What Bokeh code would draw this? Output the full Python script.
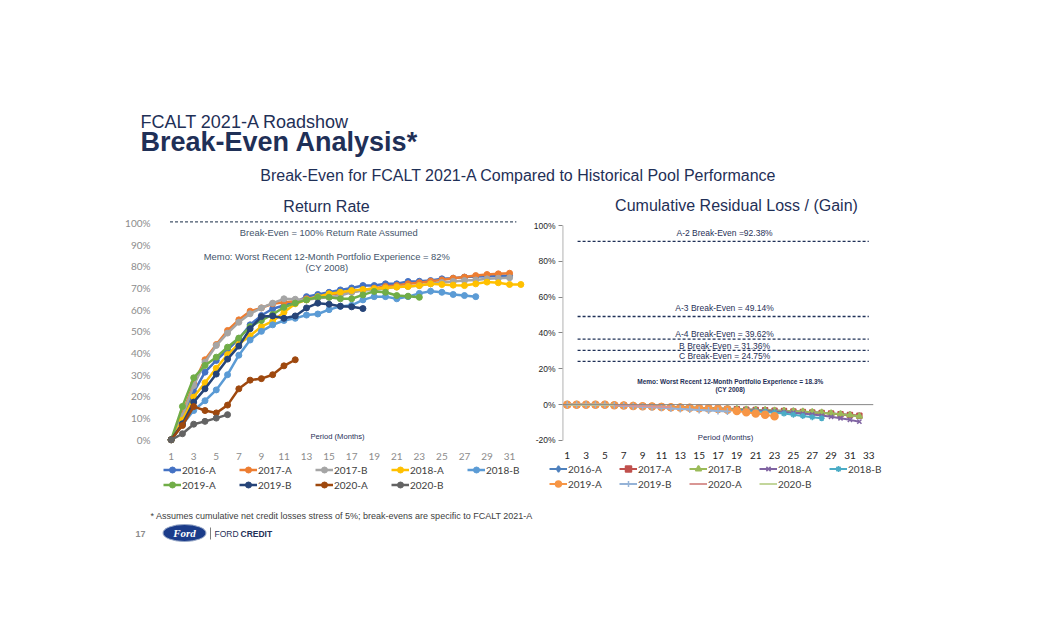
from bokeh.plotting import figure
from bokeh.models import Range1d, Legend, LegendItem, Span, Label, FixedTicker, ColumnDataSource
from bokeh.layouts import column, row
from bokeh.core.properties import value
from bokeh.embed import file_html
from bokeh.resources import INLINE

# ---------------- data ----------------
series_names = ["2016-A", "2017-A", "2017-B", "2018-A", "2018-B", "2019-A", "2019-B", "2020-A", "2020-B"]

# Return rate (%) by period (months), starting at period 1
rr_2016A = [0, 10, 22, 31.2, 36.6, 41.5, 46.5, 53, 57.3, 60.4, 61.9, 63.4, 66, 67, 68, 69.1, 70, 71.1, 71.1, 71.9, 71.9, 73, 73.1, 73.4, 74.2, 74.5, 75, 75.3, 75.4, 75.6, 75.6]
rr_2017A = [0, 12, 26, 36.9, 43.9, 50.4, 55.3, 59.3, 60.8, 62.7, 63.4, 63.9, 65, 65.7, 67, 67.6, 68, 69.1, 69.9, 70.7, 71.1, 71.9, 72.4, 73.1, 73.7, 74.5, 75, 75.7, 76.2, 76.5, 76.8]
rr_2017B = [0, 11, 25, 35.8, 43.5, 49.2, 54.2, 58.1, 60.8, 63, 65, 64.8, 64.5, 65.3, 65.7, 66.5, 68, 68.8, 69.1, 69.9, 70.4, 70.7, 71.1, 71.9, 72.5, 73, 73.4, 73.7, 74.2, 74.5, 74.7]
rr_2018A = [0, 9, 19.7, 26.3, 33, 39.3, 44.2, 48, 52.2, 54.7, 58.8, 62.7, 64.5, 66, 67.3, 68, 68.8, 69.3, 69.6, 70, 70.4, 70.7, 71.1, 71.9, 71.6, 71.3, 71.1, 71.9, 72.7, 72.4, 71.6, 71.6]
rr_2018B = [0, 7, 13.5, 18, 23, 30, 39, 46, 50, 53, 55, 56, 57.5, 58, 60, 61.5, 62, 64.5, 66, 66, 65, 66, 67.5, 68.5, 68, 67, 66.5, 66]
rr_2019A = [0, 15.4, 28.6, 34.3, 38.1, 42.7, 46.9, 52.2, 55, 57.8, 61.1, 63, 64.5, 65.7, 65.7, 65, 65, 66.8, 68.4, 68, 66.5, 66.2, 65.7]
rr_2019B = [0, 7.4, 17.4, 23.5, 30.3, 37.2, 43.2, 51.2, 56.8, 57.1, 56, 57.1, 60.8, 63, 62.5, 61.6, 61.3, 60.5]
rr_2020A = [0, 6.6, 15.3, 13.5, 12.4, 16, 23.5, 27.5, 28.2, 30, 34.1, 36.9]
rr_2020B = [0, 2.8, 7.2, 8.5, 10, 11.6]
return_rates = [rr_2016A, rr_2017A, rr_2017B, rr_2018A, rr_2018B, rr_2019A, rr_2019B, rr_2020A, rr_2020B]

# Cumulative residual loss / (gain) (%) by period
rl_2016A = [0, 0, 0, 0, 0, -0.3, -0.5, -0.7, -0.9, -1.0, -1.2, -1.3, -1.5, -1.6, -1.8, -2.0, -2.1, -2.3, -2.5, -2.7, -2.9, -3.1, -3.3, -3.5, -3.7, -4.0, -4.3, -4.6, -5.0, -5.4, -5.8, -6.3]
rl_2017A = [0, 0, 0, 0, 0, -0.3, -0.5, -0.7, -0.9, -1.1, -1.2, -1.4, -1.5, -1.7, -1.9, -2.0, -2.2, -2.4, -2.6, -2.8, -3.0, -3.2, -3.4, -3.6, -3.8, -4.1, -4.4, -4.7, -5.0, -5.4, -5.8, -6.2]
rl_2017B = [0, 0, 0, 0, 0, -0.2, -0.4, -0.6, -0.8, -1.0, -1.1, -1.3, -1.4, -1.6, -1.8, -1.9, -2.1, -2.3, -2.5, -2.7, -2.9, -3.1, -3.3, -3.5, -3.7, -3.9, -4.2, -4.5, -4.9, -5.3, -5.8, -6.5]
rl_2018A = [0, 0, 0, 0, 0, -0.3, -0.5, -0.7, -0.9, -1.1, -1.3, -1.5, -1.7, -1.9, -2.1, -2.3, -2.5, -2.7, -2.9, -3.1, -3.3, -3.5, -3.8, -4.1, -4.5, -5.0, -5.5, -6.1, -6.8, -7.6, -8.5, -9.5]
rl_2018B = [0, 0, 0, 0, 0, -0.3, -0.5, -0.7, -0.9, -1.1, -1.3, -1.5, -1.7, -1.9, -2.1, -2.3, -2.6, -2.9, -3.2, -3.5, -3.8, -4.1, -4.5, -5.0, -5.6, -6.3, -7.0, -7.6]
rl_2019A = [0, 0, 0, 0, 0, -0.3, -0.5, -0.7, -0.9, -1.1, -1.3, -1.4, -1.6, -1.8, -2.0, -2.2, -2.5, -2.9, -3.5, -4.2, -5.0, -5.6, -6.5]
rl_2019B = [0, 0, 0, 0, 0, -0.3, -0.6, -0.9, -1.2, -1.5, -1.8, -2.1, -2.4, -2.7, -3.0, -3.3, -3.6, -3.9]
rl_2020A = [0, 0, 0, 0, 0, -0.2, -0.4, -0.6, -0.8, -1.0, -1.2, -1.4]
rl_2020B = [0, 0, 0, 0, 0, -0.1]
residual_losses = [rl_2016A, rl_2017A, rl_2017B, rl_2018A, rl_2018B, rl_2019A, rl_2019B, rl_2020A, rl_2020B]

# Break-even levels
left_breakeven = [100.5]
right_be_levels = [91.2, 49.2, 36.6, 30.3, 24.2]
right_be_text_y = [95.7, 54.1, 39.2, 32.5, 27.1]
right_be_labels = ["A-2 Break-Even =92.38%", "A-3 Break-Even = 49.14%", "A-4 Break-Even = 39.62%",
                   "B Break-Even = 31.36%", "C Break-Even = 24.75%"]

left_ticks_x = list(range(1, 32, 2))
right_ticks_x = list(range(1, 34, 2))
left_ticks_y = list(range(0, 101, 10))
right_ticks_y = list(range(-20, 101, 20))

# ---------------- styles ----------------
left_colors = ["#4472C4", "#ED7D31", "#A5A5A5", "#FFC000", "#5B9BD5", "#70AD47", "#264478", "#9E480E", "#636363"]
right_colors = ["#4F81BD", "#C0504D", "#9BBB59", "#8064A2", "#4BACC6", "#F79646", "#95B3D7", "#D99694", "#C3D69B"]
right_markers = ["diamond", "square", "triangle", "x", "asterisk", "circle", "cross", None, None]
right_msize = [6, 5, 6, 6, 6, 7, 7, 0, 0]
NAVY = "#1F3057"
SANS = "Liberation Sans"
CAL = "Lato"

ROW_TOP = 214      # page y where the chart row starts
ROW_H = 248
FOOT_TOP = ROW_TOP + ROW_H
FOOT_H = 170


def clean(p):
    p.xgrid.visible = False
    p.ygrid.visible = False
    p.outline_line_color = None
    p.background_fill_color = "white"
    p.border_fill_color = "white"


# ---------------- header ----------------
header = figure(width=1033, height=ROW_TOP, x_range=Range1d(0, 1033), y_range=Range1d(0, ROW_TOP),
                output_backend="svg", toolbar_location=None, min_border=0,
                x_axis_location=None, y_axis_location=None)
clean(header)
hdr = [
    ("FCALT 2021-A Roadshow", 140, 121, "18px", "normal", "left"),
    ("Break-Even Analysis*", 140, 141, "27px", "bold", "left"),
    ("Break-Even for FCALT 2021-A Compared to Historical Pool Performance", 518, 175, "16px", "normal", "center"),
    ("Return Rate", 326, 205.5, "16px", "normal", "center"),
    ("Cumulative Residual Loss / (Gain)", 736, 205, "16px", "normal", "center"),
]
for t, x, y, fs, st, al in hdr:
    header.add_layout(Label(x=x, y=ROW_TOP - y, text=t, text_font=SANS, text_font_size=fs, text_font_style=st,
                            text_color=NAVY, text_align=al, text_baseline="middle"))

# ---------------- left chart ----------------
left = figure(width=530, height=ROW_H, x_range=Range1d(0.5, 32.5), y_range=Range1d(-1.7, 103.4),
              output_backend="svg", toolbar_location=None,
              min_border_left=165, min_border_right=4, min_border_top=1, min_border_bottom=19)
clean(left)
left.xaxis.ticker = FixedTicker(ticks=left_ticks_x)
left.yaxis.ticker = FixedTicker(ticks=left_ticks_y)
left.yaxis.major_label_overrides = {v: f"{v}%" for v in left_ticks_y}
for ax in (left.xaxis[0], left.yaxis[0]):
    ax.axis_line_color = None
    ax.major_tick_line_color = None
    ax.minor_tick_line_color = None
    ax.major_label_text_color = "#8C8C8C"
    ax.major_label_text_font = CAL
    ax.major_label_text_font_size = "10px"
left.xaxis.major_label_standoff = 3
left.yaxis.major_label_standoff = 9

left.segment(x0=[0.9], x1=[31.6], y0=left_breakeven, y1=left_breakeven,
             line_color="#44546A", line_width=1.3, line_dash="3 2")

for name, vals, col in zip(series_names, return_rates, left_colors):
    xs = list(range(1, len(vals) + 1))
    src = ColumnDataSource(dict(x=xs, y=vals))
    left.line("x", "y", source=src, line_color=col, line_width=2.5)
    left.scatter("x", "y", source=src, marker="circle", size=6, fill_color=col, line_color=col)

left_texts = ColumnDataSource(dict(
    x=[15.0, 14.8, 14.8],
    y=[95.7, 84.6, 79.4],
    t=["Break-Even = 100% Return Rate Assumed",
       "Memo: Worst Recent 12-Month Portfolio Experience = 82%",
       "(CY 2008)"]))
left.text("x", "y", text="t", source=left_texts, text_font=value(SANS), text_font_size="9.4px",
          text_color="#44546A", text_align="center", text_baseline="middle")
left.text(x=[15.75], y=[1.7], text=["Period (Months)"], text_font=value(SANS), text_font_size="7.6px",
          text_color=NAVY, text_align="center", text_baseline="middle")

# ---------------- right chart ----------------
right = figure(width=503, height=ROW_H, x_range=Range1d(0.5, 33.5), y_range=Range1d(-21.7, 105.6),
               output_backend="svg", toolbar_location=None,
               min_border_left=30, min_border_right=160, min_border_top=1, min_border_bottom=19)
clean(right)
right.xaxis.ticker = FixedTicker(ticks=right_ticks_x)
right.yaxis.ticker = FixedTicker(ticks=right_ticks_y)
right.yaxis.major_label_overrides = {v: f"{v}%" for v in right_ticks_y}
right.xaxis.axis_line_color = None
right.xaxis.major_tick_line_color = None
right.xaxis.minor_tick_line_color = None
right.xaxis.major_label_text_font = CAL
right.xaxis.major_label_text_font_size = "10px"
right.xaxis.major_label_text_color = "#262626"
right.xaxis.major_label_standoff = 2
right.yaxis.axis_line_color = None
right.yaxis.major_tick_line_color = "#868686"
right.yaxis.major_tick_out = 4
right.yaxis.major_tick_in = 0
right.yaxis.minor_tick_line_color = None
right.yaxis.major_label_text_font = SANS
right.yaxis.major_label_text_font_size = "8.5px"
right.yaxis.major_label_text_color = "#262626"
right.yaxis.major_label_standoff = 3
# value axis line from -20% to 100%
right.segment(x0=[0.53], x1=[0.53], y0=[right_ticks_y[0]], y1=[right_ticks_y[-1]],
              line_color="#868686", line_width=1)
right.add_layout(Span(location=0, dimension="width", line_color="#868686", line_width=1))

right.segment(x0=[2.1] * len(right_be_levels), x1=[33.0] * len(right_be_levels),
              y0=right_be_levels, y1=right_be_levels,
              line_color=NAVY, line_width=1.3, line_dash="3 2")
right.text(x=[17.7] * len(right_be_labels), y=right_be_text_y, text=right_be_labels,
           text_font=value(SANS), text_font_size="8.5px", text_color=NAVY,
           text_align="center", text_baseline="middle")
right.text(x=[18.3, 18.3], y=[13.0, 8.5],
           text=["Memo: Worst Recent 12-Month Portfolio Experience = 18.3%", "(CY 2008)"],
           text_font=value(SANS), text_font_size="6.5px", text_font_style="bold", text_color=NAVY,
           text_align="center", text_baseline="middle")
right.text(x=[17.8], y=[-18.6], text=["Period (Months)"], text_font=value(SANS), text_font_size="7.8px",
           text_color=NAVY, text_align="center", text_baseline="middle")

for name, vals, col, mk, ms in zip(series_names, residual_losses, right_colors, right_markers, right_msize):
    xs = list(range(1, len(vals) + 1))
    src = ColumnDataSource(dict(x=xs, y=vals))
    right.line("x", "y", source=src, line_color=col, line_width=2)
    if mk is not None:
        right.scatter("x", "y", source=src, marker=mk, size=ms, fill_color=col,
                      line_color=col, line_width=1.5)

# ---------------- footer (legends, footnote, logo) ----------------
footer = figure(width=1033, height=FOOT_H, x_range=Range1d(0, 1033), y_range=Range1d(0, FOOT_H),
                output_backend="svg", toolbar_location=None, min_border=0,
                x_axis_location=None, y_axis_location=None)
clean(footer)


def fy(page_y):
    # page y (from top) -> footer data y (from bottom)
    return FOOT_TOP + FOOT_H - page_y


# legend sample renderers (points placed outside the visible footer range)
OFF = dict(x=[-500, -499], y=[-500, -500])
litems = []
for name, col in zip(series_names, left_colors):
    l = footer.line(line_color=col, line_width=2.5, **OFF)
    s = footer.scatter(marker="circle", size=6, fill_color=col, line_color=col, **OFF)
    litems.append(LegendItem(label=name, renderers=[l, s]))
ritems = []
for name, col, mk, ms in zip(series_names, right_colors, right_markers, right_msize):
    rends = [footer.line(line_color=col, line_width=2, **OFF)]
    if mk is not None:
        rends.append(footer.scatter(marker=mk, size=min(ms, 6), fill_color=col,
                                    line_color=col, line_width=1.5, **OFF))
    ritems.append(LegendItem(label=name, renderers=rends))

common = dict(orientation="horizontal", ncols=5, glyph_width=18, glyph_height=15, label_height=15,
              label_standoff=1, spacing=0, padding=0, margin=0, label_text_font=CAL,
              label_text_font_size="10px", label_text_color="#404040", border_line_alpha=0,
              background_fill_alpha=0)
footer.add_layout(Legend(items=litems, location=(163, int(fy(491.5))), label_width=57, **common), "center")
footer.add_layout(Legend(items=ritems, location=(549, int(fy(490.5))), label_width=51, **common), "center")

footer.add_layout(Label(x=150, y=fy(515), text="* Assumes cumulative net credit losses stress of 5%; break-evens are specific to FCALT 2021-A",
                        text_font=SANS, text_font_size="9px", text_color="#404040", text_baseline="middle"))
footer.add_layout(Label(x=135, y=fy(533), text="17", text_font=SANS, text_font_size="9px",
                        text_font_style="bold", text_color="#8C8C8C", text_baseline="middle"))
footer.ellipse(x=[184], y=[fy(532.5)], width=43, height=17, fill_color="#1B3C8A",
               line_color="#9AAAC8", line_width=1)
footer.add_layout(Label(x=184, y=fy(532.5), text="Ford", text_font="Liberation Serif", text_font_size="11px",
                        text_font_style="bold italic", text_color="white", text_align="center", text_baseline="middle"))
footer.segment(x0=[210], x1=[210], y0=[fy(527)], y1=[fy(539)], line_color="#7F7F7F", line_width=1)
footer.add_layout(Label(x=214, y=fy(533), text="FORD", text_font=SANS, text_font_size="8.5px",
                        text_color=NAVY, text_baseline="middle"))
footer.add_layout(Label(x=240, y=fy(533), text="CREDIT", text_font=SANS, text_font_size="8.5px",
                        text_font_style="bold", text_color=NAVY, text_baseline="middle"))

page = column(header, row(left, right), footer)
open("out.html", "w").write(file_html(page, INLINE))
